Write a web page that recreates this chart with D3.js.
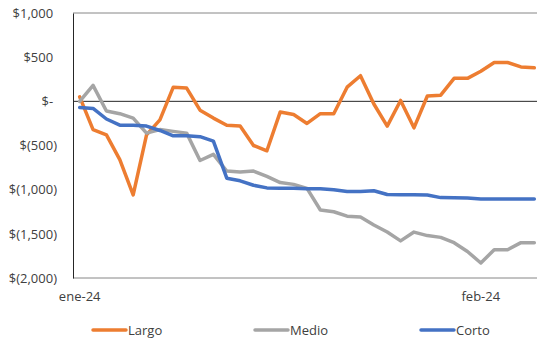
<!DOCTYPE html>
<html>
<head>
<meta charset="utf-8">
<script src="https://cdn.jsdelivr.net/npm/d3@7"></script>
<style>
  html, body { margin: 0; padding: 0; background: #fff; }
  svg { display: block; font-family: "Open Sans", "Noto Sans", sans-serif; }
</style>
</head>
<body>
<svg id="chart" width="537" height="339"></svg>
<script>
// Daily observations
const dates = [
  "2024-01-02","2024-01-03","2024-01-04","2024-01-05","2024-01-06","2024-01-07","2024-01-08",
  "2024-01-09","2024-01-10","2024-01-11","2024-01-12","2024-01-13","2024-01-14","2024-01-15",
  "2024-01-16","2024-01-17","2024-01-18","2024-01-19","2024-01-20","2024-01-21","2024-01-22",
  "2024-01-23","2024-01-24","2024-01-25","2024-01-26","2024-01-27","2024-01-28","2024-01-29",
  "2024-01-30","2024-01-31","2024-02-01","2024-02-02","2024-02-03","2024-02-04","2024-02-05"
];

const largo = [50, -320, -380, -660, -1060, -380, -210, 160, 150, -100, -190, -270, -280, -500,
  -560, -120, -150, -250, -140, -140, 160, 290, -30, -280, 10, -300, 60, 70, 260, 260,
  340, 440, 440, 390, 380];

const medio = [0, 180, -110, -140, -190, -360, -320, -340, -360, -670, -600, -790, -800, -790,
  -850, -920, -940, -985, -1230, -1250, -1300, -1310, -1400, -1480, -1580, -1480, -1520, -1540,
  -1600, -1700, -1830, -1680, -1680, -1600, -1600];

const corto = [-70, -80, -200, -270, -270, -280, -330, -390, -390, -400, -450, -870, -900, -950,
  -980, -985, -985, -990, -990, -1000, -1020, -1020, -1012, -1055, -1058, -1058, -1060, -1090,
  -1092, -1095, -1105, -1105, -1105, -1105, -1105];

const yTicks = [1000, 500, 0, -500, -1000, -1500, -2000];
const xTickDates = ["2024-01-02", "2024-02-01"];
const xTickLabels = ["ene-24", "feb-24"];

const seriesNames = ["Largo", "Medio", "Corto"];
const seriesColors = ["#ED7D31", "#A5A5A5", "#4472C4"];
const seriesValues = [largo, medio, corto];

const svg = d3.select("#chart");
const plot = { left: 73, right: 541, top: 13, bottom: 278 };
const textColor = "#404040";
const fontSize = 13;

const x = d3.scaleBand().domain(dates).range([plot.left, plot.right]);
const xc = d => x(d) + x.bandwidth() / 2;
const y = d3.scaleLinear().domain([-2000, 1000]).range([plot.bottom, plot.top]);

// Frame lines at the top and bottom of the value range
svg.append("line")
  .attr("x1", plot.left).attr("x2", plot.right)
  .attr("y1", y(1000)).attr("y2", y(1000))
  .attr("stroke", "#868686").attr("stroke-width", 1);
svg.append("line")
  .attr("x1", plot.left).attr("x2", plot.right)
  .attr("y1", y(-2000)).attr("y2", y(-2000))
  .attr("stroke", "#868686").attr("stroke-width", 1);

// Zero line (category axis)
svg.append("line")
  .attr("x1", plot.left).attr("x2", plot.right)
  .attr("y1", y(0)).attr("y2", y(0))
  .attr("stroke", "#262626").attr("stroke-width", 1);

// Value axis
const fmt = v => {
  if (v === 0) return "$-";
  const s = d3.format(",")(Math.abs(v));
  return v < 0 ? "$(" + s + ")" : "$" + s;
};
const yAxis = svg.append("g")
  .attr("transform", `translate(${plot.left},0)`)
  .call(d3.axisLeft(y).tickValues(yTicks).tickFormat(fmt).tickSize(0).tickPadding(16));
yAxis.select(".domain").attr("stroke", "#262626").attr("stroke-width", 1);
yAxis.selectAll("text")
  .attr("fill", textColor)
  .style("font-size", fontSize + "px")
  .style("font-family", '"Open Sans", "Noto Sans", sans-serif')
  .attr("dx", d => d >= 0 ? "-0.3em" : null);

// Category axis labels
const xAxis = svg.append("g")
  .attr("transform", `translate(0,${plot.bottom})`)
  .call(d3.axisBottom(x).tickValues(xTickDates)
    .tickFormat((d, i) => xTickLabels[i]).tickSize(0).tickPadding(14));
xAxis.select(".domain").remove();
xAxis.selectAll("text")
  .attr("fill", textColor)
  .style("font-size", fontSize + "px")
  .style("font-family", '"Open Sans", "Noto Sans", sans-serif');

// Series lines
const line = d3.line()
  .x((d, i) => xc(dates[i]))
  .y(d => y(d));

seriesValues.forEach((vals, k) => {
  svg.append("path")
    .datum(vals)
    .attr("d", line)
    .attr("fill", "none")
    .attr("stroke", seriesColors[k])
    .attr("stroke-width", 3.5)
    .attr("stroke-linejoin", "round")
    .attr("stroke-linecap", "round");
});

// Legend
const legendX = [93, 255, 421];
const legendY = 330;
const legend = svg.append("g");
seriesNames.forEach((name, k) => {
  legend.append("line")
    .attr("x1", legendX[k]).attr("x2", legendX[k] + 33)
    .attr("y1", legendY).attr("y2", legendY)
    .attr("stroke", seriesColors[k]).attr("stroke-width", 3.5)
    .attr("stroke-linecap", "round");
  legend.append("text")
    .attr("x", legendX[k] + 35)
    .attr("y", legendY)
    .attr("dy", "0.35em")
    .attr("fill", textColor)
    .style("font-size", fontSize + "px")
    .text(name);
});
</script>
</body>
</html>
